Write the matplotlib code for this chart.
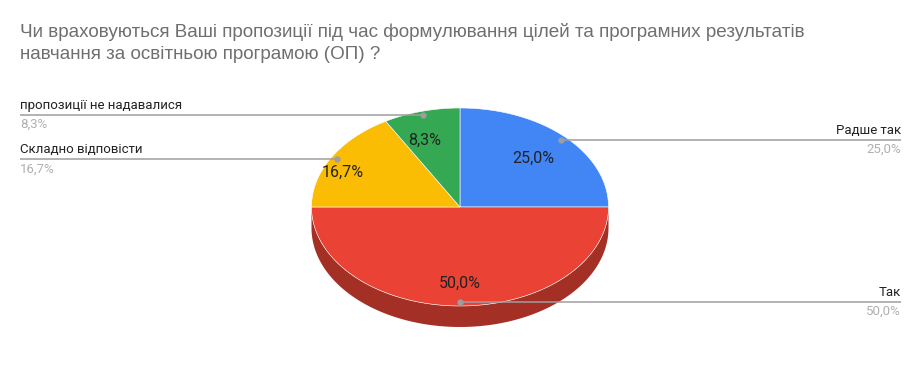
import numpy as np
from matplotlib import pyplot as plt
from matplotlib.patches import Polygon

title = "Чи враховуються Ваші пропозиції під час формулювання цілей та програмних результатів\nнавчання за освітньою програмою (ОП) ?"
labels = ["Радше так", "Так", "Складно відповісти", "пропозиції не надавалися"]
values = [3, 6, 2, 1]
colors = ["#4285F4", "#EA4335", "#FBBC04", "#34A853"]
side_colors = ["#2E5DAB", "#A42F25", "#B08403", "#24763A"]

# pie geometry in pixel coordinates
cx, cy = 460, 207
rx, ry = 148.5, 99
depth = 21

fig = plt.figure(figsize=(9.21, 3.79), dpi=100)
ax = fig.add_axes([0, 0, 1, 1])
ax.set_xlim(0, 921)
ax.set_ylim(379, 0)
ax.axis("off")


def pt(t, f=1.0):
    # t in degrees, clockwise from 12 o'clock
    r = np.radians(t)
    return cx + rx * f * np.sin(r), cy - ry * f * np.cos(r)


total = sum(values)
fracs = [v / total for v in values]
starts = np.cumsum([0] + fracs[:-1]) * 360
ends = np.cumsum(fracs) * 360

# side walls (front half only: 90..270 deg)
for s, e, sc in zip(starts, ends, side_colors):
    a, b = max(s, 90), min(e, 270)
    if a >= b:
        continue
    t = np.linspace(a, b, 100)
    xs, ys = pt(t)
    poly = np.vstack([np.column_stack([xs, ys]), np.column_stack([xs[::-1], ys[::-1] + depth])])
    ax.add_patch(Polygon(poly, closed=True, facecolor=sc, edgecolor="none"))

# top faces
for s, e, c in zip(starts, ends, colors):
    t = np.linspace(s, e, 200)
    xs, ys = pt(t)
    poly = np.vstack([[cx, cy], np.column_stack([xs, ys])])
    ax.add_patch(Polygon(poly, closed=True, facecolor=c, edgecolor="white", linewidth=0.4))

# labels inside slices (narrow slices get pushed a bit outward sideways)
for s, e, fr in zip(starts, ends, fracs):
    m = (s + e) / 2
    x, y = pt(m, 0.7)
    if fr < 0.2:
        x = cx + (x - cx) * 1.3
    if 90 < m < 270:
        y += depth * 0.35
    ax.text(x, y, f"{fr * 100:.1f}%".replace(".", ","), ha="center", va="center",
            fontsize=11.5, color="#222222", family="Roboto")

# leader lines and outside labels
for s, e, lab, fr in zip(starts, ends, labels, fracs):
    m = (s + e) / 2
    x, y = pt(m, 0.96)
    pct = f"{fr * 100:.1f}%".replace(".", ",")
    if m <= 180:
        x2 = 901
        ha = "right"
    else:
        x2 = 20
        ha = "left"
    ax.plot([x, x2], [y, y], color="#9e9e9e", linewidth=1.1, solid_capstyle="butt")
    ax.plot(x, y, "o", color="#9e9e9e", markersize=3.5)
    ax.text(x2, y - 3, lab, ha=ha, va="bottom", fontsize=9.5, color="#222222", family="Roboto")
    ax.text(x2, y + 3, pct, ha=ha, va="top", fontsize=9.5, color="#b0b0b0", family="Roboto")

ax.text(20, 43, title, ha="left", va="center", fontsize=13.6, color="#6f6f6f",
        family="Liberation Sans", linespacing=1.45)

fig.savefig("out.png", dpi=100)
